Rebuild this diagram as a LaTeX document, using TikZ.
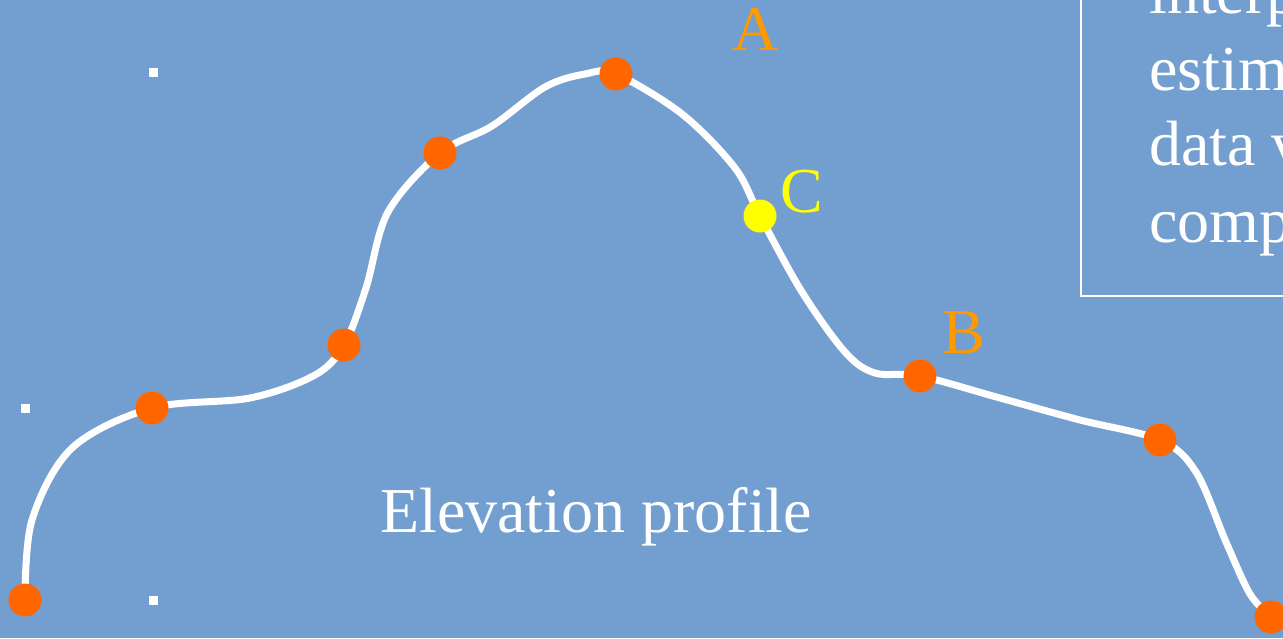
\documentclass[tikz,border=0pt]{standalone}
\usepackage{fontspec}
\setmainfont{Liberation Serif}
\usepackage{tikz}
\definecolor{bgblue}{HTML}{729FCF}
\definecolor{dotorange}{HTML}{FF6600}
\definecolor{lblorange}{HTML}{FF9900}
\definecolor{dotyellow}{HTML}{FFFF00}

\begin{document}
\begin{tikzpicture}[
  x=1pt, y=-1pt,
  every node/.style={font=\fontsize{64}{77}\selectfont},
  profile/.style={draw=white, line width=7pt, line cap=round},
  station/.style={circle, fill=dotorange, inner sep=0pt, minimum size=33pt},
  query/.style={circle, fill=dotyellow, inner sep=0pt, minimum size=33pt},
  lab/.style={inner sep=0pt, anchor=base west},
  tick/.style={fill=white}
]
  % background and frame
  \fill[bgblue] (0,0) rectangle (1283,638);
  \useasboundingbox (0,0) rectangle (1283,638);
  \clip (0,0) rectangle (1283,638);

  % small markers
  \fill[tick] (149,68) rectangle (158,77);
  \fill[tick] (21,404) rectangle (30,413);
  \fill[tick] (149,596) rectangle (158,605);

  % text box
  \draw[white, line width=1.5pt] (1081,-10) rectangle (1300,296);
  \node[lab, text=white] (t1) at (1149,13) {interp};
  \node[lab, text=white] (t2) at (1149,90) {estim};
  \node[lab, text=white] (t3) at (1149,165) {data v};
  \node[lab, text=white] (t4) at (1149,242) {comp};

  % profile points
  \coordinate (p1) at (25,600);
  \coordinate (p2) at (152,408);
  \coordinate (p3) at (344,345);
  \coordinate (p4) at (440,153);
  \coordinate (p5) at (616,74);
  \coordinate (pc) at (760,216);
  \coordinate (p6) at (920,376);
  \coordinate (p7) at (1160,440);
  \coordinate (p8) at (1271,617);

  \draw[profile] plot[smooth, tension=0.55] coordinates {
    (p1) (32,520) (72,448) (p2) (250,398) (315,375) (p3) (366,288)
    (388,212) (p4) (492,126) (545,87) (585,74) (p5) (682,114) (735,168)
    (pc) (802,292) (845,352) (875,373) (p6) (1000,398) (1080,420) (p7)
    (1196,472) (1226,542) (1250,594) (p8)};

  % stations
  \foreach \p in {p1,p2,p3,p4,p5,p6,p7,p8}
    \node[station] (s\p) at (\p) {};
  \node[query] (sc) at (pc) {};

  % labels
  \node[lab, text=lblorange] (la) at (732,50) {A};
  \node[lab, text=lblorange] (lb) at (942,353) {B};
  \node[lab, text=dotyellow] (lc) at (780,212) {C};
  \node[lab, text=white] (title) at (380,532) {Elevation profile};
\end{tikzpicture}
\end{document}
